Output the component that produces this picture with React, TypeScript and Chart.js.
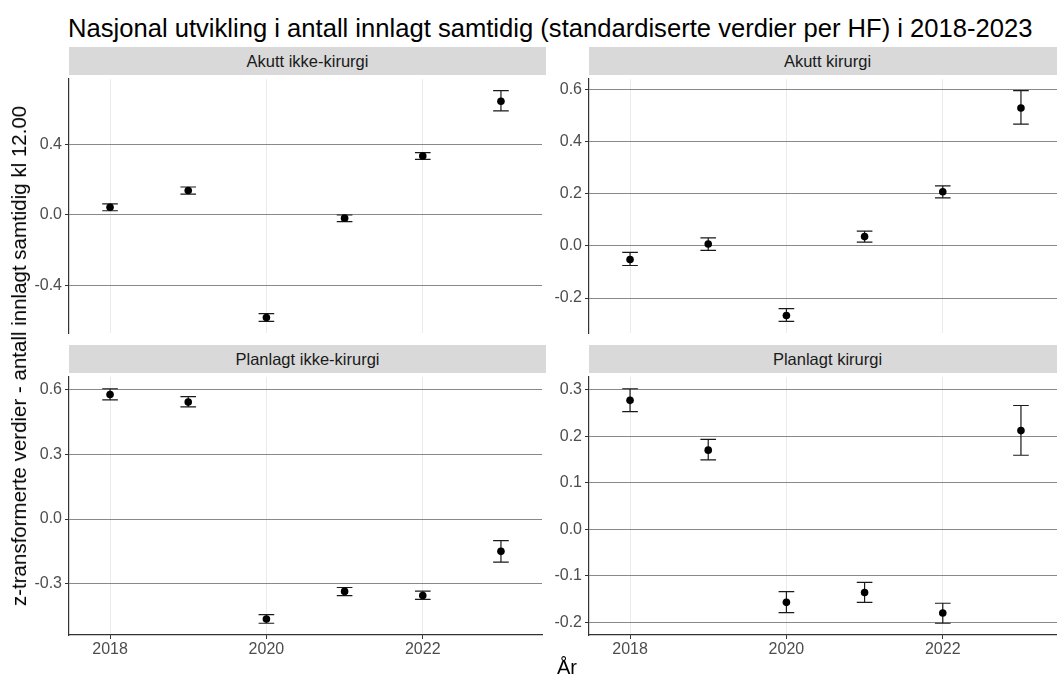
import React, { useEffect, useRef } from "react";
import { Chart, registerables } from "chart.js";

Chart.register(...registerables);

const TITLE = "Nasjonal utvikling i antall innlagt samtidig (standardiserte verdier per HF) i 2018-2023";
const Y_TITLE = "z-transformerte verdier - antall innlagt samtidig kl 12.00";
const X_TITLE = "År";

const years = [2018, 2019, 2020, 2021, 2022, 2023];
const xTicks = [2018, 2020, 2022];

const akuttIkkeKirurgiMean = [0.044, 0.139, -0.583, -0.018, 0.335, 0.646];
const akuttIkkeKirurgiLow = [0.024, 0.119, -0.605, -0.038, 0.316, 0.591];
const akuttIkkeKirurgiHigh = [0.063, 0.159, -0.561, 0.0, 0.354, 0.707];
const akuttIkkeKirurgiTicks = [-0.4, 0.0, 0.4];

const akuttKirurgiMean = [-0.052, 0.0075, -0.267, 0.036, 0.208, 0.53];
const akuttKirurgiLow = [-0.075, -0.017, -0.29, 0.015, 0.185, 0.468];
const akuttKirurgiHigh = [-0.025, 0.031, -0.241, 0.057, 0.231, 0.597];
const akuttKirurgiTicks = [-0.2, 0.0, 0.2, 0.4, 0.6];

const planlagtIkkeKirurgiMean = [0.578, 0.543, -0.464, -0.336, -0.355, -0.15];
const planlagtIkkeKirurgiLow = [0.553, 0.521, -0.484, -0.356, -0.373, -0.2];
const planlagtIkkeKirurgiHigh = [0.605, 0.568, -0.444, -0.318, -0.335, -0.1];
const planlagtIkkeKirurgiTicks = [-0.3, 0.0, 0.3, 0.6];

const planlagtKirurgiMean = [0.277, 0.17, -0.157, -0.136, -0.18, 0.212];
const planlagtKirurgiLow = [0.253, 0.149, -0.179, -0.157, -0.202, 0.159];
const planlagtKirurgiHigh = [0.302, 0.193, -0.134, -0.114, -0.159, 0.266];
const planlagtKirurgiTicks = [-0.2, -0.1, 0.0, 0.1, 0.2, 0.3];

const FONT = "'Liberation Sans', Arial, sans-serif";
const Y_AXIS_W = 49;
const PLOT_W = 477;
const PLOT_H = 262;
const X_AXIS_H = 35;

type PanelDef = {
  name: string;
  mean: number[];
  low: number[];
  high: number[];
  ticks: number[];
  left: number;
  top: number;
  bottomRow: boolean;
};

const panels: PanelDef[] = [
  { name: "Akutt ikke-kirurgi", mean: akuttIkkeKirurgiMean, low: akuttIkkeKirurgiLow, high: akuttIkkeKirurgiHigh, ticks: akuttIkkeKirurgiTicks, left: 69, top: 75, bottomRow: false },
  { name: "Akutt kirurgi", mean: akuttKirurgiMean, low: akuttKirurgiLow, high: akuttKirurgiHigh, ticks: akuttKirurgiTicks, left: 589, top: 75, bottomRow: false },
  { name: "Planlagt ikke-kirurgi", mean: planlagtIkkeKirurgiMean, low: planlagtIkkeKirurgiLow, high: planlagtIkkeKirurgiHigh, ticks: planlagtIkkeKirurgiTicks, left: 69, top: 373, bottomRow: true },
  { name: "Planlagt kirurgi", mean: planlagtKirurgiMean, low: planlagtKirurgiLow, high: planlagtKirurgiHigh, ticks: planlagtKirurgiTicks, left: 589, top: 373, bottomRow: true },
];

const errorBarPlugin = {
  id: "errorBars",
  beforeDatasetsDraw(chart: any) {
    const { ctx, scales } = chart;
    const x = scales.x;
    const y = scales.y;
    const ds = chart.data.datasets[0];
    ctx.save();
    ctx.strokeStyle = "#1a1a1a";
    ctx.lineWidth = 1.2;
    ds.data.forEach((pt: any) => {
      const px = x.getPixelForValue(pt.x);
      const hw = x.getPixelForValue(pt.x + 0.1) - px;
      const t = y.getPixelForValue(pt.yMax);
      const b = y.getPixelForValue(pt.yMin);
      ctx.beginPath();
      ctx.moveTo(px, t);
      ctx.lineTo(px, b);
      ctx.moveTo(px - hw, t);
      ctx.lineTo(px + hw, t);
      ctx.moveTo(px - hw, b);
      ctx.lineTo(px + hw, b);
      ctx.stroke();
    });
    ctx.restore();
  },
};

function expandRange(low: number[], high: number[]) {
  const mn = Math.min(...low);
  const mx = Math.max(...high);
  const pad = (mx - mn) * 0.05;
  return [mn - pad, mx + pad];
}

function Panel({ def }: { def: PanelDef }) {
  const ref = useRef<HTMLCanvasElement>(null);
  const w = Y_AXIS_W + PLOT_W;
  const h = PLOT_H + (def.bottomRow ? X_AXIS_H : 0);
  useEffect(() => {
    if (!ref.current) return;
    const [ymin, ymax] = expandRange(def.low, def.high);
    const chart = new Chart(ref.current, {
      type: "scatter",
      data: {
        datasets: [
          {
            data: years.map((yr, i) => ({ x: yr, y: def.mean[i], yMin: def.low[i], yMax: def.high[i] })),
            backgroundColor: "#000000",
            borderWidth: 0,
            pointRadius: 3.8,
          },
        ],
      },
      options: {
        animation: false,
        responsive: false,
        maintainAspectRatio: false,
        layout: { padding: 0 },
        plugins: { legend: { display: false }, tooltip: { enabled: false }, title: { display: false } },
        scales: {
          x: {
            type: "linear",
            min: 2017.475,
            max: 2023.525,
            afterBuildTicks: (s: any) => {
              s.ticks = xTicks.map((v) => ({ value: v }));
            },
            afterFit: (s: any) => {
              s.height = def.bottomRow ? X_AXIS_H : 0;
              s.paddingLeft = 0;
              s.paddingRight = 0;
            },
            grid: {
              color: "#ebebeb",
              lineWidth: 1,
              drawTicks: def.bottomRow,
              tickLength: 4,
              tickColor: "#333333",
            },
            border: { display: def.bottomRow, color: "#333333", width: 1.2 },
            ticks: {
              display: def.bottomRow,
              color: "#4d4d4d",
              font: { family: FONT, size: 16 },
              padding: 1,
              maxRotation: 0,
              callback: (v: any) => String(v),
            },
          },
          y: {
            type: "linear",
            min: ymin,
            max: ymax,
            afterBuildTicks: (s: any) => {
              s.ticks = def.ticks.map((v) => ({ value: v }));
            },
            afterFit: (s: any) => {
              s.width = Y_AXIS_W;
              s.paddingTop = 0;
              s.paddingBottom = 0;
            },
            grid: {
              color: "#888888",
              lineWidth: 1,
              drawTicks: true,
              tickLength: 4,
              tickColor: "#333333",
            },
            border: { display: true, color: "#333333", width: 1.2 },
            ticks: {
              color: "#4d4d4d",
              font: { family: FONT, size: 16 },
              padding: 3,
              callback: (v: any) => Number(v).toFixed(1),
            },
          },
        },
      },
      plugins: [errorBarPlugin],
    });
    return () => chart.destroy();
  }, []);
  return (
    <>
      <div
        style={{
          position: "absolute",
          left: def.left,
          top: def.top - 28,
          width: PLOT_W,
          height: 28,
          background: "#d9d9d9",
          color: "#1a1a1a",
          fontFamily: FONT,
          fontSize: 16.5,
          lineHeight: "28px",
          textAlign: "center",
          whiteSpace: "nowrap",
        }}
      >
        {def.name}
      </div>
      <canvas
        ref={ref}
        width={w}
        height={h}
        style={{ position: "absolute", left: def.left - Y_AXIS_W, top: def.top, width: w, height: h }}
      />
    </>
  );
}

export default function App() {
  return (
    <div
      style={{
        position: "fixed",
        left: 0,
        top: 0,
        width: 1057,
        height: 676,
        overflow: "hidden",
        background: "#ffffff",
        fontFamily: FONT,
      }}
    >
      <div
        style={{
          position: "absolute",
          left: 68,
          top: 13,
          fontSize: 25.6,
          lineHeight: "30px",
          color: "#000000",
          whiteSpace: "nowrap",
        }}
      >
        {TITLE}
      </div>
      {panels.map((p) => (
        <Panel key={p.name} def={p} />
      ))}
      <div
        style={{
          position: "absolute",
          left: 19,
          top: 356,
          transform: "translate(-50%, -50%) rotate(-90deg)",
          fontSize: 20.5,
          lineHeight: "24px",
          color: "#000000",
          whiteSpace: "nowrap",
        }}
      >
        {Y_TITLE}
      </div>
      <div
        style={{
          position: "absolute",
          left: 567,
          top: 667,
          transform: "translate(-50%, -50%)",
          fontSize: 20,
          lineHeight: "24px",
          color: "#000000",
          whiteSpace: "nowrap",
        }}
      >
        {X_TITLE}
      </div>
    </div>
  );
}
